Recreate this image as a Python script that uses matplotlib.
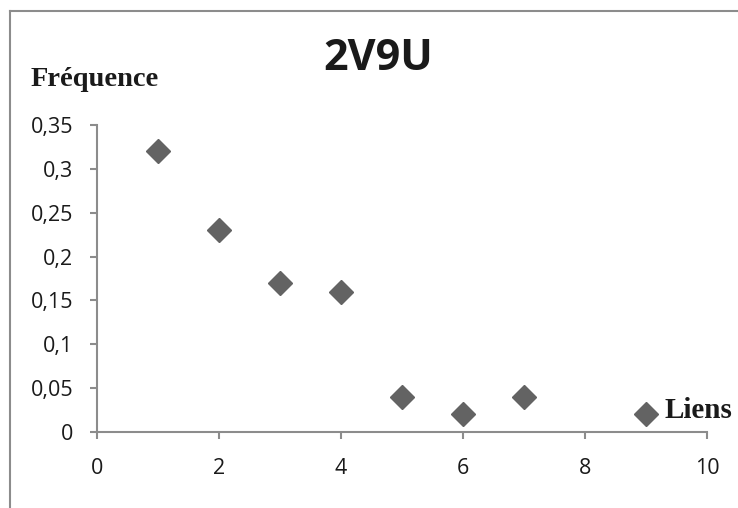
import matplotlib
matplotlib.use("Agg")
import matplotlib.pyplot as plt
from matplotlib.lines import Line2D

liens = [1, 2, 3, 4, 5, 6, 7, 9]
frequence = [0.32, 0.23, 0.17, 0.16, 0.04, 0.02, 0.04, 0.02]
x_ticks = [0, 2, 4, 6, 8, 10]
y_ticks = [0, 0.05, 0.1, 0.15, 0.2, 0.25, 0.3, 0.35]
y_labels = ["0", "0,05", "0,1", "0,15", "0,2", "0,25", "0,3", "0,35"]

fig = plt.figure(figsize=(7.38, 5.08), dpi=100)
ax = fig.add_axes([97/738, 1-432/508, (707-97)/738, (432-125)/508])

ax.plot(liens, frequence, linestyle="none", marker="D", markersize=12,
        color="#636363", markeredgecolor="#636363")

ax.set_xlim(0, 10)
ax.set_ylim(0, 0.35)
ax.set_xticks(x_ticks)
ax.set_xticklabels([str(t) for t in x_ticks])
ax.set_yticks(y_ticks)
ax.set_yticklabels(y_labels)

grey = "#8c8c8c"
for s in ["top", "right"]:
    ax.spines[s].set_visible(False)
for s in ["left", "bottom"]:
    ax.spines[s].set_color(grey)
    ax.spines[s].set_linewidth(1.5)
ax.tick_params(axis="both", colors=grey, length=5, width=1.5, direction="out",
               labelcolor="#1a1a1a", labelsize=15.5)
ax.tick_params(axis="y", pad=12)
ax.tick_params(axis="x", pad=14)
for lab in ax.get_xticklabels() + ax.get_yticklabels():
    lab.set_family("Open Sans")

fig.text(378/738, 1-59/508, "2V9U", ha="center", va="center",
         fontsize=31, fontweight="bold", family="Open Sans", color="#1a1a1a")
fig.text(31/738, 1-79/508, "Fréquence", ha="left", va="center",
         fontsize=20.5, fontweight="bold", family="Liberation Serif", color="#1a1a1a")
ax.text(9.3, 0.025, "Liens", ha="left", va="center",
        fontsize=21, fontweight="bold", family="Liberation Serif", color="#1a1a1a")

# frame
fig.add_artist(Line2D([10/738, 10/738], [0, 1-11/508], transform=fig.transFigure,
                      color=grey, linewidth=1.5))
fig.add_artist(Line2D([10/738, 1], [1-11/508, 1-11/508], transform=fig.transFigure,
                      color=grey, linewidth=1.5))

fig.savefig("out.png", dpi=100)
